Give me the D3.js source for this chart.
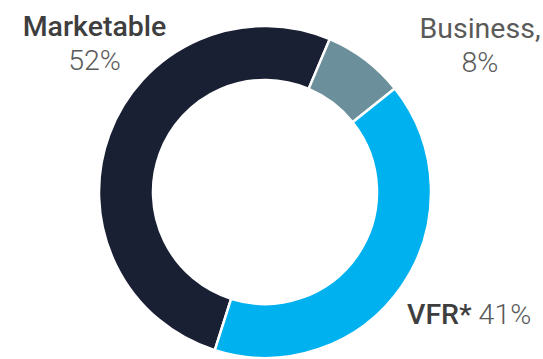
<!DOCTYPE html>
<html>
<head>
<meta charset="utf-8">
<script src="https://cdn.jsdelivr.net/npm/d3@7"></script>
<style>
  html, body { margin: 0; padding: 0; background: #fff; }
  svg { display: block; font-family: Roboto, "Noto Sans", sans-serif; }
</style>
</head>
<body>
<svg id="chart" width="543" height="359"></svg>
<script>
// Visitor mix by purpose of travel
const categories = ["Marketable", "Business", "VFR*"];
const shares = [52, 8, 41];
const colors = ["#1a2033", "#6c8f9c", "#00b1ef"];

const svg = d3.select("#chart");
const cx = 265, cy = 192;
const outerR = 166, innerR = 112;

const startDeg = -162.4;
const pie = d3.pie()
  .sort(null)
  .value(d => d.value)
  .startAngle(startDeg * Math.PI / 180)
  .endAngle((startDeg + 360) * Math.PI / 180);

const arc = d3.arc().innerRadius(innerR).outerRadius(outerR);

const data = categories.map((c, i) => ({ name: c, value: shares[i], color: colors[i] }));

svg.append("g")
  .attr("transform", `translate(${cx},${cy})`)
  .selectAll("path")
  .data(pie(data))
  .join("path")
  .attr("d", arc)
  .attr("fill", d => d.data.color)
  .attr("stroke", "#fff")
  .attr("stroke-width", 2.5);

// Labels
const bold = "#3e3e3e", light = "#5a5a5a";
const fs = 28.5;

function twoLine(x, y1, y2, name, nameWeight, value) {
  svg.append("text").attr("x", x).attr("y", y1).attr("text-anchor", "middle")
    .attr("font-size", fs).attr("font-weight", nameWeight)
    .attr("fill", nameWeight >= 500 ? bold : light).text(name);
  svg.append("text").attr("x", x).attr("y", y2).attr("text-anchor", "middle")
    .attr("font-size", fs).attr("font-weight", 300)
    .attr("fill", light).text(value + "%");
}

twoLine(94.5, 36, 70, categories[0], 500, shares[0]);
twoLine(480, 38, 72, categories[1] + ",", 400, shares[1]);

const vfr = svg.append("text").attr("x", 407).attr("y", 324)
  .attr("font-size", fs);
vfr.append("tspan").attr("font-weight", 500).attr("fill", bold).text(categories[2]);
vfr.append("tspan").attr("font-weight", 300).attr("fill", light).text(" " + shares[2] + "%");
</script>
</body>
</html>
